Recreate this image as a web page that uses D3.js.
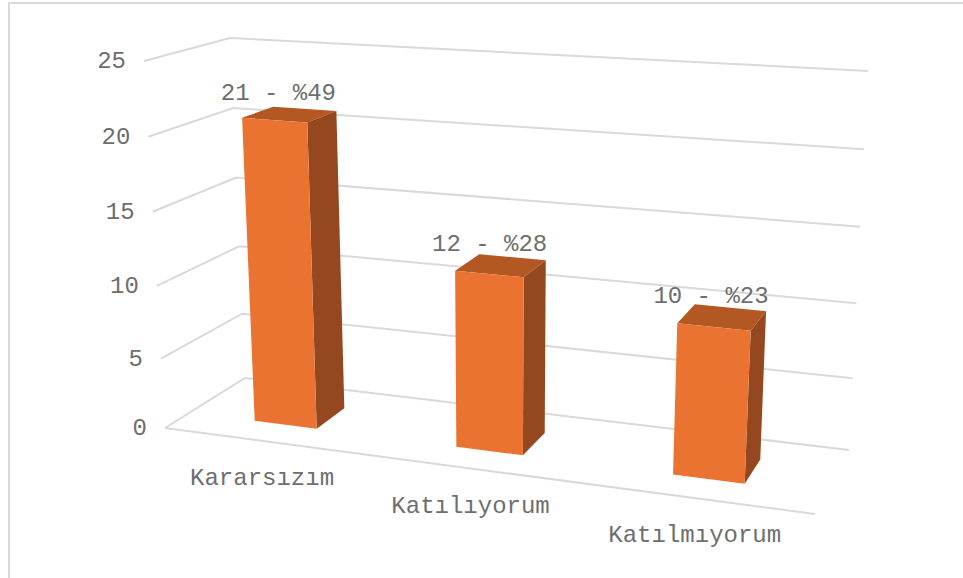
<!DOCTYPE html>
<html><head><meta charset="utf-8">
<style>html,body{margin:0;padding:0;background:#fff}svg{display:block}
text{font-family:"Liberation Mono",monospace;font-size:24px;fill:#6e6e6e}</style>
<script src="https://cdn.jsdelivr.net/npm/d3@7"></script></head><body>
<div id="c"></div>
<script>
const categories = ["Kararsızım", "Katılıyorum", "Katılmıyorum"];
const values = [21, 12, 10];
const barLabels = ["21 - %49", "12 - %28", "10 - %23"];
const ticks = [0, 5, 10, 15, 20, 25];

const W = 963, H = 578;
// Box corners of the 3D chart, [x,y] as seen on screen
const floorFL=[165,428], floorBL=[245,378], floorBR=[849,450], floorFR=[815,514];
const topFL=[144,61], topBL=[230,38], topBR=[868,71], topFR=[836,104];
const K = 1.115; // perspective along the category axis

const hScale = d3.scalePow().exponent(1.035).domain([0,25]).range([0,1]);
const band = d3.scaleBand().domain(categories).range([0,0.997]).paddingInner(0.685).paddingOuter(0.3375);
const depth = d3.scaleLinear().domain([0,1]).range([0.31,0.70]);
const persp = t => t/(K-(K-1)*t);
const lerp = (a,b,t)=>[a[0]+(b[0]-a[0])*t, a[1]+(b[1]-a[1])*t];
function project(u,w,v){
  const h=hScale(v);
  const f=lerp(lerp(floorFL,floorFR,u),lerp(topFL,topFR,u),h);
  const b=lerp(lerp(floorBL,floorBR,u),lerp(topBL,topBR,u),h);
  return lerp(f,b,w);
}

const svg=d3.select("#c").append("svg").attr("width",W).attr("height",H);
svg.append("path").attr("d",d3.line()([[9,H],[9,3],[W,3]])).attr("fill","none").attr("stroke","#d9d9d9").attr("stroke-width",2);

const line=d3.line();
svg.append("g").selectAll("path").data(ticks).join("path")
  .attr("d",v=>line([project(0,0,v),project(0,1,v),project(1,1,v)]))
  .attr("fill","none").attr("stroke","#d9d9d9").attr("stroke-width",2);
svg.append("path").attr("d",line([project(0,0,0),project(1,0,0)]))
  .attr("fill","none").attr("stroke","#d9d9d9").attr("stroke-width",2);

svg.append("g").selectAll("text").data(ticks).join("text")
  .attr("x",v=>project(0,0,v)[0]-18).attr("y",v=>project(0,0,v)[1])
  .attr("dy","0.3em").attr("text-anchor","end").text(v=>v);

const bars=categories.map((c,i)=>{
  const u0=persp(band(c)),u1=persp(band(c)+band.bandwidth());
  const w0=depth(0),w1=depth(1),v=values[i];
  return {c,i,v,u0,u1,w0,w1};
});
const poly=pts=>line(pts)+"Z";
const g=svg.append("g").selectAll("g").data(bars).join("g");
g.append("path").attr("fill","#B35723")
  .attr("d",d=>poly([project(d.u0,d.w0,d.v),project(d.u1,d.w0,d.v),project(d.u1,d.w1,d.v),project(d.u0,d.w1,d.v)]));
g.append("path").attr("fill","#95481F")
  .attr("d",d=>poly([project(d.u1,d.w0,0),project(d.u1,d.w0,d.v),project(d.u1,d.w1,d.v),project(d.u1,d.w1,0)]));
g.append("path").attr("fill","#EB7331")
  .attr("d",d=>poly([project(d.u0,d.w0,0),project(d.u1,d.w0,0),project(d.u1,d.w0,d.v),project(d.u0,d.w0,d.v)]));

svg.append("g").selectAll("text").data(bars).join("text")
  .attr("text-anchor","middle").attr("dy","0.3em")
  .attr("x",d=>project((d.u0+d.u1)/2,0.5,d.v)[0]-11)
  .attr("y",d=>project((d.u0+d.u1)/2,0.5,d.v)[1]-22)
  .text(d=>barLabels[d.i]);

svg.append("g").selectAll("text").data(bars).join("text")
  .attr("text-anchor","middle").attr("dy","0.3em")
  .attr("x",d=>project((d.u0+d.u1)/2,0,0)[0]-1)
  .attr("y",d=>project((d.u0+d.u1)/2,0,0)[1]+37)
  .text(d=>d.c);
</script></body></html>
